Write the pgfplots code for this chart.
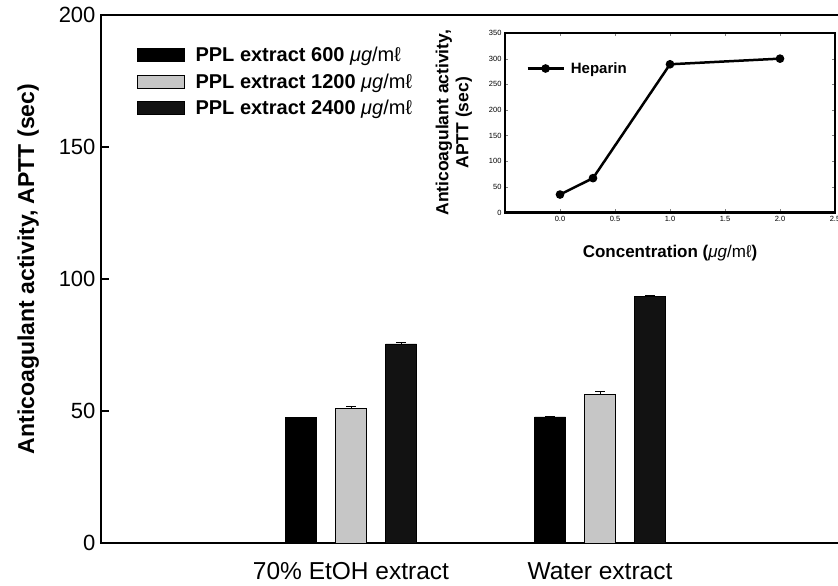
\documentclass[border=0pt]{standalone}
\usepackage{pgfplots}
\pgfplotsset{compat=1.18}
\usepackage{fontspec}
\setmainfont{Liberation Sans}
\pgfplotsset{myerr/.style={error bars/.cd, y dir=plus, y explicit, error mark options={rotate=90, mark size=5pt, line width=1pt}}}
\begin{document}
\begin{tikzpicture}
\useasboundingbox (0,0) rectangle (838pt,586pt);
\begin{axis}[
  at={(101pt,43pt)}, anchor=south west,
  scale only axis, width=749pt, height=528pt,
  ybar=19pt, bar width=31pt,
  xmin=-1.004, xmax=2.004, ymin=0, ymax=200,
  xtick={0,1}, xticklabels={70\% EtOH extract, Water extract},
  major x tick style={draw=none},
  ytick={0,50,100,150,200},
  ytick pos=left, tick align=inside, major tick length=8pt,
  axis line style={line width=1.2pt},
  every tick/.style={line width=1.2pt},
  /pgf/number format/assume math mode=true,
  yticklabel style={font=\fontsize{22}{22}\selectfont, xshift=-2pt},
  xticklabel style={font=\fontsize{24.5}{25}\selectfont, yshift=-16pt},
  ylabel={\bfseries Anticoagulant activity, APTT (sec)},
  ylabel style={font=\fontsize{23}{24}\selectfont, yshift=13pt, xshift=10pt},
  legend image code/.code={\draw[#1,draw=black] (0pt,-6.5pt) rectangle (47pt,6.5pt);},
  legend style={at={(rel axis cs:0.044,0.947)}, anchor=north west, draw=none, fill=none,
    row sep=6.5pt, column sep=9pt, font=\fontsize{20}{20}\selectfont, legend cell align=left},
]
\addplot[fill=black, draw=black, myerr] coordinates {(0,47.5) +- (0,0.2) (1,47.8) +- (0,0.3)};
\addlegendentry{\bfseries PPL extract 600 \mdseries\textit{μg}/mℓ}
\addplot[fill=gray!45, draw=black, myerr] coordinates {(0,51.0) +- (0,0.6) (1,56.3) +- (0,0.9)};
\addlegendentry{\bfseries PPL extract 1200 \mdseries\textit{μg}/mℓ}
\addplot[fill=black!93, draw=black, myerr] coordinates {(0,75.4) +- (0,0.4) (1,93.3) +- (0,0.3)};
\addlegendentry{\bfseries PPL extract 2400 \mdseries\textit{μg}/mℓ}
\end{axis}
\begin{axis}[
  at={(505pt,373.5pt)}, anchor=south west,
  scale only axis, width=330pt, height=179.5pt,
  xmin=-0.5, xmax=2.5, ymin=0, ymax=350,
  xtick={0,0.5,1,1.5,2,2.5}, ytick={0,50,100,150,200,250,300,350},
  /pgf/number format/assume math mode=true,
  xticklabel style={/pgf/number format/.cd, fixed, fixed zerofill, precision=1},
  tick label style={font=\fontsize{7.5}{8}\selectfont},
  axis line style={line width=2.5pt},
  tick align=inside, major tick length=3pt,
  xlabel={\bfseries Concentration (\mdseries\textit{μg}/mℓ\bfseries)},
  xlabel style={font=\fontsize{17}{18}\selectfont, yshift=-17pt},
  ylabel={\bfseries Anticoagulant activity,\\\bfseries APTT (sec)},
  ylabel style={font=\fontsize{17.5}{20}\selectfont, align=center, yshift=10pt},
  legend image code/.code={\draw[#1] (0pt,0pt) -- (36pt,0pt); \draw[#1] plot[mark=*] coordinates {(18pt,0pt)};},
  legend style={at={(rel axis cs:0.055,0.86)}, anchor=north west, draw=none, fill=none,
    column sep=4pt, font=\fontsize{15}{15}\selectfont\bfseries},
]
\addplot[line width=2.5pt, mark=*, mark size=3pt, black] coordinates {(0,35) (0.3,67) (1,289) (2,300)};
\addlegendentry{Heparin}
\end{axis}
\end{tikzpicture}
\end{document}
